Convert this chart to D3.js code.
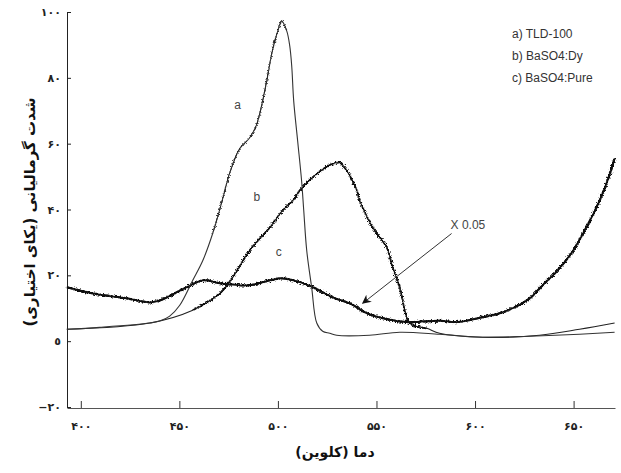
<!DOCTYPE html>
<html><head><meta charset="utf-8">
<script src="https://cdn.jsdelivr.net/npm/d3@7"></script>
<style>body{margin:0;background:#fff}svg{display:block}</style>
</head><body>
<svg id="c" width="621" height="473"></svg>
<script>
// ---- data ----
const aTemp = [392.9,409.6,435,440,445.1,450.2,456.8,461.9,466.9,472,475.6,480.6,485.7,489.2,493.3,497.4,499.9,501.9,504.5,506,507,508,510,512,513.1,514.6,517.1,519.7,522.7,526.3,529.8,546.5,561.8,582,603.8,627.7,653,670.8];
const aVal  = [3.6,4.2,5.5,6.1,7.6,10.9,18.5,24.5,32.7,43.3,51.2,58.5,61.8,65.8,76,88.8,94.2,97.3,94.2,89.7,83.6,73,60.9,48.8,39.7,27.6,16.4,5.5,3.0,2.4,1.8,1.8,2.7,2.1,1.2,1.5,2.1,2.7];
const bTemp = [392.9,435,456.8,470.5,477.1,485.7,495.8,502.4,507.5,511.1,519.7,527.8,531.3,534.9,540,541.5,548.1,555.2,558.2,561.8,564.3,565.8,568.4,575.5,582,603.8,632.7,653,670.8];
const bVal  = [3.6,5.5,9.4,14.5,19.4,27.6,34.5,39.7,42.7,45.8,50.9,53.9,54.2,51.8,45.8,42.7,34.5,28.5,22.4,16.4,9.4,6.4,4.8,3.9,2.4,1.2,1.8,3.6,5.5];
const cTemp = [392.9,406.1,423.3,435,440.1,453.8,461.9,470.5,485.7,495.8,502.4,511.1,517.7,527.8,536.4,545,553.1,565.3,582,590.7,603.9,612.5,621.1,627.7,633.8,641.4,649.5,658.1,663.2,668.3,670.8];
const cVal  = [16.4,14.5,13.0,11.8,12.4,16.4,18.5,17.6,17.0,18.5,19.1,17.9,16.4,13.3,11.5,8.5,7.0,5.8,6.2,5.8,7.3,8.5,10.6,13.0,16.7,21.2,27.3,36.4,42.7,50.6,55.5];
const xTicks = [400,450,500,550,600,650];
const xTickLabels = ["۴۰۰","۴۵۰","۵۰۰","۵۵۰","۶۰۰","۶۵۰"];
const yTicks = [-20,0,20,40,60,80,100];
const yTickLabels = ["−۲۰","٥","۲۰","۴۰","۶۰","۸۰","۱۰۰"];
const legendItems = ["a) TLD-100","b) BaSO4:Dy","c) BaSO4:Pure"];
const curveLabels = [{t:"a",x:479.6,y:71.5},{t:"b",x:489.3,y:43.6},{t:"c",x:500.4,y:26.7}];
const xTitle = "دما (کلوین)";
const yTitle = "شدت گرمالیانی (یکای اختیاری)";
const factorText = "X 0.05";
const arrowFrom = [588.1,32.7], arrowTo = [543,11.5];

// ---- drawing ----
const svg = d3.select("#c");
const x = d3.scaleLinear().domain([393,671]).range([67,615]);
const y = d3.scaleLinear().domain([-20,100]).range([407,12]);

const defs = svg.append("defs");
const f = defs.append("filter").attr("id","noisy").attr("filterUnits","userSpaceOnUse")
  .attr("x",0).attr("y",0).attr("width",621).attr("height",473);
f.append("feTurbulence").attr("type","fractalNoise").attr("baseFrequency","1.4 0.9").attr("numOctaves",2).attr("seed",7).attr("result","t");
f.append("feDisplacementMap").attr("in","SourceGraphic").attr("in2","t").attr("scale",5)
  .attr("xChannelSelector","R").attr("yChannelSelector","G");
defs.append("marker").attr("id","arr").attr("viewBox","0 0 10 10").attr("refX",9).attr("refY",5)
  .attr("markerWidth",13).attr("markerHeight",9).attr("markerUnits","userSpaceOnUse").attr("orient","auto")
  .append("path").attr("d","M0,0 L10,5 L0,10 L3,5 Z").attr("fill","#111");

// axes
const xAxis = d3.axisBottom(x).tickValues(xTicks).tickSizeInner(-7).tickSizeOuter(0)
  .tickFormat((d,i)=>xTickLabels[i]).tickPadding(14);
const gx = svg.append("g").attr("transform",`translate(0,${y(-20)+1})`).call(xAxis);
gx.select(".domain").attr("stroke","#555");
gx.selectAll(".tick line").attr("stroke","#333");
gx.selectAll("text").attr("font-family","DejaVu Sans").attr("font-size",11).attr("font-weight","bold").attr("fill","#222");

const yAxis = d3.axisLeft(y).tickValues(yTicks).tickSizeInner(-4).tickSizeOuter(0)
  .tickFormat((d,i)=>yTickLabels[i]).tickPadding(6);
const gy = svg.append("g").attr("transform",`translate(${x(393)},0)`).call(yAxis);
gy.select(".domain").attr("stroke","#222");
gy.selectAll(".tick line").attr("stroke","#222");
gy.selectAll("text").attr("font-family","DejaVu Sans").attr("font-size",11).attr("font-weight","bold").attr("fill","#222");

// curves
const line = d3.line().x(d=>x(d[0])).y(d=>y(d[1])).curve(d3.curveCatmullRom.alpha(0.5));
const zip = (t,v)=>t.map((d,i)=>[d,v[i]]);
const cData = zip(cTemp,cVal), bData = zip(bTemp,bVal), aData = zip(aTemp,aVal);
// c: thick noisy trace
svg.append("path").datum(cData).attr("d",line).attr("fill","none").attr("stroke","#111").attr("stroke-width",1.8);
svg.append("path").datum(cData).attr("d",line).attr("fill","none").attr("stroke","#111")
  .attr("stroke-width",2.2).attr("filter","url(#noisy)");
// b: thin at the ends, noisy in the middle
svg.append("path").datum(bData).attr("d",line).attr("fill","none").attr("stroke","#222").attr("stroke-width",1.1);
svg.append("path").datum(bData.filter(d=>d[0]>=456 && d[0]<=576)).attr("d",line).attr("fill","none")
  .attr("stroke","#111").attr("stroke-width",1.8).attr("filter","url(#noisy)");
// a: thin line
svg.append("path").datum(aData).attr("d",line).attr("fill","none")
  .attr("stroke","#333").attr("stroke-width",1.1);
svg.append("path").datum(aData.filter(d=>d[0]>=466 && d[0]<=505)).attr("d",line).attr("fill","none")
  .attr("stroke","#222").attr("stroke-width",1).attr("filter","url(#noisy)");

// curve labels
svg.selectAll(".cl").data(curveLabels).join("text")
  .attr("x",d=>x(d.x)).attr("y",d=>y(d.y)).attr("text-anchor","middle").attr("dominant-baseline","middle")
  .attr("font-family","Liberation Sans").attr("font-size",12).attr("fill","#444").text(d=>d.t);

// factor annotation with arrow
svg.append("text").attr("x",x(arrowFrom[0])-1).attr("y",y(arrowFrom[1])-5).attr("font-family","Liberation Sans")
  .attr("font-size",12).attr("fill","#444").text(factorText);
svg.append("line").attr("x1",x(arrowFrom[0])).attr("y1",y(arrowFrom[1])).attr("x2",x(arrowTo[0])).attr("y2",y(arrowTo[1]))
  .attr("stroke","#333").attr("stroke-width",1).attr("marker-end","url(#arr)");

// legend
svg.selectAll(".lg").data(legendItems).join("text")
  .attr("x",512).attr("y",(d,i)=>38+i*22).attr("font-family","Liberation Sans")
  .attr("font-size",12).attr("fill","#333").text(d=>d);

// titles
svg.append("text").attr("x",335).attr("y",457).attr("text-anchor","middle")
  .attr("font-family","DejaVu Sans").attr("font-weight","bold").attr("font-size",14).attr("fill","#111")
  .attr("direction","rtl").text(xTitle);
svg.append("text").attr("transform",`translate(30,212) rotate(-90)`).attr("text-anchor","middle")
  .attr("dominant-baseline","middle")
  .attr("font-family","DejaVu Sans").attr("font-weight","bold").attr("font-size",15).attr("fill","#111")
  .attr("direction","rtl").text(yTitle);
</script>
</body></html>
